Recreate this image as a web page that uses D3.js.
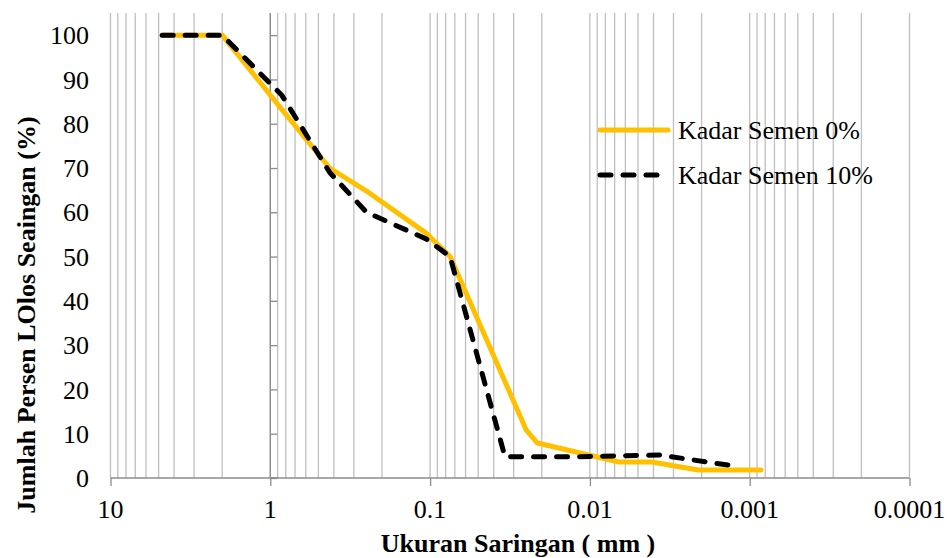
<!DOCTYPE html>
<html>
<head>
<meta charset="utf-8">
<script src="https://cdn.jsdelivr.net/npm/d3@7"></script>
<style>
  body { margin: 0; background: #fff; }
</style>
</head>
<body>
<svg id="chart"></svg>
<script>
// Gradasi butiran
const seriesNames = ["Kadar Semen 0%", "Kadar Semen 10%"];
const sizes0 = [4.75, 2.0, 0.85, 0.425, 0.25, 0.106, 0.075, 0.025, 0.0213, 0.0066, 0.0041, 0.0021, 0.00085];
const pass0 = [100, 100, 83.3, 70, 64.8, 55.3, 50, 10.8, 7.9, 3.6, 3.6, 1.8, 1.8];
const sizes10 = [4.75, 2.0, 0.85, 0.425, 0.25, 0.106, 0.075, 0.034, 0.0125, 0.0037, 0.0013];
const pass10 = [100, 100, 86.5, 69, 60, 54, 50, 4.8, 4.8, 5.2, 2.8];
const xTicks = [10, 1, 0.1, 0.01, 0.001, 0.0001];
const xTickLabels = ["10", "1", "0.1", "0.01", "0.001", "0.0001"];
const yTicks = [0, 10, 20, 30, 40, 50, 60, 70, 80, 90, 100];

const width = 947, height = 558;
const margin = { top: 13, right: 37.5, bottom: 80, left: 110.5 };
const serif = "'Liberation Serif', 'Times New Roman', Tinos, 'DejaVu Serif', serif";

const svg = d3.select('#chart')
    .attr('width', width)
    .attr('height', height)
    .attr('font-family', serif);

const x = d3.scaleLog()
    .domain([10, 0.0001])
    .range([margin.left, width - margin.right]);

const y = d3.scaleLinear()
    .domain([0, 105])
    .range([height - margin.bottom, margin.top]);

// vertical gridlines (major + minor per decade)
const gridVals = [];
for (let e = 1; e >= -4; e--) {
    for (let m = 1; m <= 9; m++) {
        const v = m * Math.pow(10, e - 1);
        if (v <= 10 && v >= 0.0001) gridVals.push(v);
    }
}
gridVals.push(10);

svg.append('g')
    .selectAll('line')
    .data(gridVals)
    .enter()
    .append('line')
    .attr('x1', d => x(d))
    .attr('x2', d => x(d))
    .attr('y1', y(105))
    .attr('y2', y(0))
    .attr('stroke', '#bfbfbf')
    .attr('stroke-width', 1.3);

// y axis sits at size = 1
const yAxis = svg.append('g')
    .attr('transform', `translate(${x(1)},0)`)
    .call(d3.axisRight(y).tickValues(yTicks).tickSize(7).tickFormat(''));
yAxis.select('.domain').attr('stroke', '#8c8c8c').attr('stroke-width', 1.3)
    .attr('d', `M7,${y(0)}H0V${y(105)}`);
yAxis.selectAll('.tick line').attr('stroke', '#8c8c8c').attr('stroke-width', 1.3);

// y tick labels at the left
svg.append('g')
    .selectAll('text')
    .data(yTicks)
    .enter()
    .append('text')
    .attr('x', 89)
    .attr('y', d => y(d))
    .attr('dy', '0.35em')
    .attr('text-anchor', 'end')
    .attr('font-family', serif)
    .style('font-size', '26px')
    .text(d => d);

// x axis
const xAxis = svg.append('g')
    .attr('transform', `translate(0,${y(0)})`)
    .call(d3.axisBottom(x).tickValues(xTicks).tickSize(8).tickFormat(''));
xAxis.select('.domain').attr('stroke', '#8c8c8c').attr('stroke-width', 1.3)
    .attr('d', `M${x(10)},0H${x(0.0001)}`);
xAxis.selectAll('.tick line').attr('stroke', '#8c8c8c').attr('stroke-width', 1.3);

svg.append('g')
    .selectAll('text')
    .data(xTicks)
    .enter()
    .append('text')
    .attr('x', d => x(d))
    .attr('y', 518)
    .attr('text-anchor', 'middle')
    .attr('font-family', serif)
    .style('font-size', '26px')
    .text((d, i) => xTickLabels[i]);

// series lines
const line = d3.line()
    .x(d => x(d[0]))
    .y(d => y(d[1]));

const data0 = sizes0.map((s, i) => [s, pass0[i]]);
const data10 = sizes10.map((s, i) => [s, pass10[i]]);

svg.append('path')
    .datum(data0)
    .attr('d', line)
    .attr('fill', 'none')
    .attr('stroke', '#FFC000')
    .attr('stroke-width', 5)
    .attr('stroke-linejoin', 'round')
    .attr('stroke-linecap', 'round');

svg.append('path')
    .datum(data10)
    .attr('d', line)
    .attr('fill', 'none')
    .attr('stroke', '#000')
    .attr('stroke-width', 5)
    .attr('stroke-dasharray', '11,12')
    .attr('stroke-linejoin', 'round')
    .attr('stroke-linecap', 'round');

// legend
const legend = svg.append('g');
legend.append('line')
    .attr('x1', 600).attr('x2', 668)
    .attr('y1', 130).attr('y2', 130)
    .attr('stroke', '#FFC000').attr('stroke-width', 5)
    .attr('stroke-linecap', 'round');
legend.append('line')
    .attr('x1', 600).attr('x2', 668)
    .attr('y1', 175).attr('y2', 175)
    .attr('stroke', '#000').attr('stroke-width', 5)
    .attr('stroke-dasharray', '11,12')
    .attr('stroke-linecap', 'round');
legend.selectAll('text')
    .data(seriesNames)
    .enter()
    .append('text')
    .attr('x', 678)
    .attr('y', (d, i) => 130 + i * 45)
    .attr('dy', '0.35em')
    .attr('font-family', serif)
    .style('font-size', '26px')
    .text(d => d);

// axis titles
svg.append('text')
    .attr('x', 518)
    .attr('y', 552)
    .attr('text-anchor', 'middle')
    .attr('font-family', serif)
    .style('font-size', '26px')
    .style('font-weight', 'bold')
    .text('Ukuran Saringan ( mm )');

svg.append('text')
    .attr('transform', 'translate(35,315) rotate(-90)')
    .attr('text-anchor', 'middle')
    .attr('font-family', serif)
    .style('font-size', '26px')
    .style('font-weight', 'bold')
    .text('Jumlah Persen LOlos Seaingan (%)');
</script>
</body>
</html>
